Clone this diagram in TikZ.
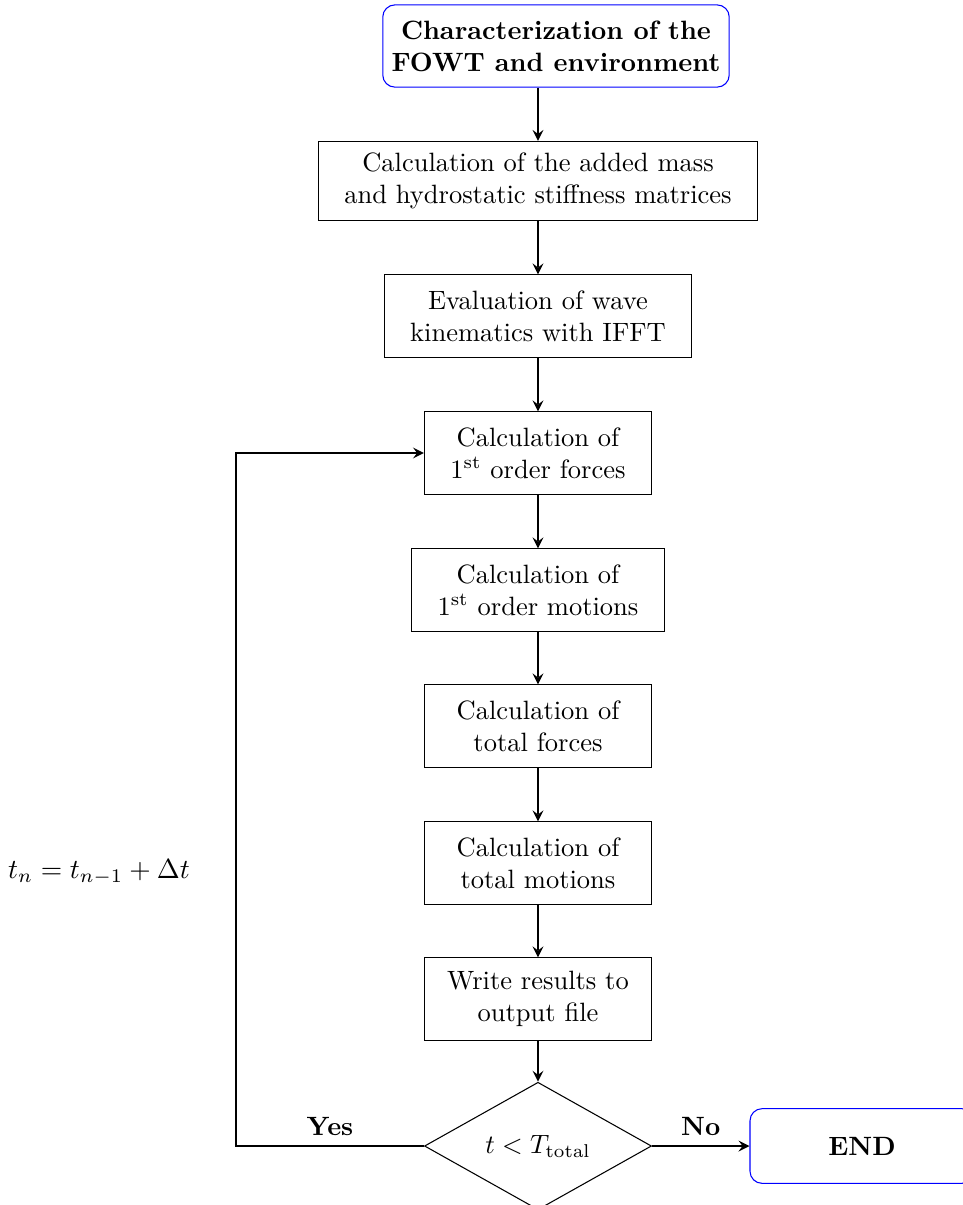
\documentclass[tikz,border=0pt]{standalone}
\usetikzlibrary{shapes.geometric}
\begin{document}
\begin{tikzpicture}[x=0.01326cm, y=-0.01326cm, >=stealth,
    block/.style={draw, rectangle, align=center, minimum height=1.09cm},
    term/.style={draw=blue, rectangle, rounded corners=0.16cm, align=center, font=\bfseries},
    decide/.style={draw, diamond, inner sep=0pt, minimum width=3.01cm, minimum height=1.62cm}]
  \useasboundingbox (0,0) rectangle (963,1205);
  \draw
    (556,46) node[term, minimum width=4.56cm, minimum height=1.09cm] (start){Characterization of the\\FOWT and environment}
    (538,181) node[block, minimum width=5.82cm, minimum height=1.05cm] (calc){Calculation of the added mass\\and hydrostatic stiffness matrices}
    (538,316) node[block, minimum width=4.07cm] (ifft){Evaluation of wave\\kinematics with IFFT}
    (538,453) node[block, minimum width=3.01cm] (f1){Calculation of\\1\textsuperscript{st} order forces}
    (538,590) node[block, minimum width=3.35cm] (m1){Calculation of\\1\textsuperscript{st} order motions}
    (538,726) node[block, minimum width=3.01cm] (tf){Calculation of\\total forces}
    (538,863) node[block, minimum width=3.01cm] (tm){Calculation of\\total motions}
    (538,999) node[block, minimum width=3.01cm] (out){Write results to\\output file}
    (538,1146) node[decide] (dec){$t < T_{\mathrm{total}}$}
    (862,1146) node[term, minimum width=2.97cm, minimum height=0.99cm] (end){END}
    (99,872) node[scale=1.04] (step){$t_n = t_{n-1} + \Delta t$};
  \coordinate (turn) at (236,1146);
  \begin{scope}[->, thick]
    \draw (start.south -| calc.north) to (calc);
    \draw (calc) to (ifft);
    \draw (ifft) to (f1);
    \draw (f1) to (m1);
    \draw (m1) to (tf);
    \draw (tf) to (tm);
    \draw (tm) to (out);
    \draw (out) to (dec);
    \draw (dec.east) to node[above]{\textbf{No}} (end.west);
    \draw (dec.west) -- node[above]{\textbf{Yes}} (turn) |- (f1.west);
  \end{scope}
\end{tikzpicture}
\end{document}
